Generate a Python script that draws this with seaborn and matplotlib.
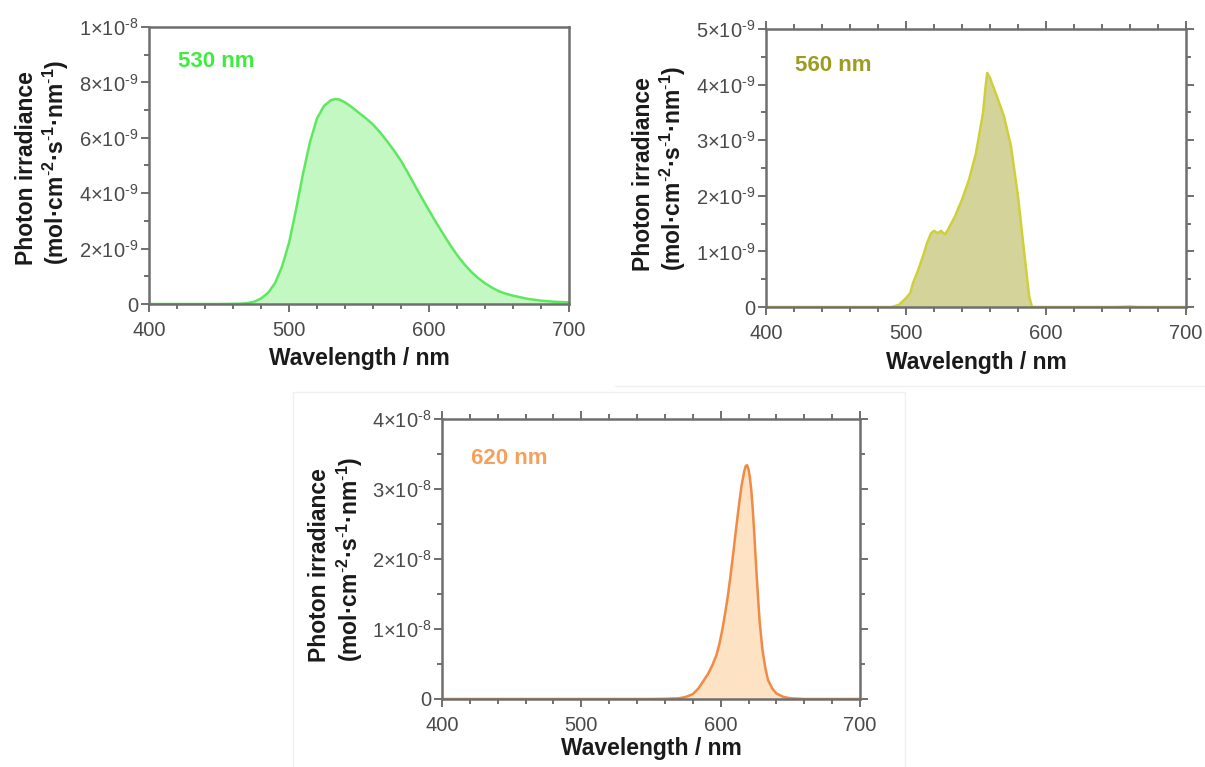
import numpy as np
import pandas as pd
import matplotlib
matplotlib.use("Agg")
import matplotlib.pyplot as plt
import seaborn as sns
from matplotlib.ticker import MultipleLocator, FixedLocator, FixedFormatter
from matplotlib.lines import Line2D

# ---------------- data ----------------
wl_530 = [400, 450, 465, 470, 475, 480, 485, 490, 495, 500, 505, 510, 515, 520, 525, 530, 533,
          536, 540, 545, 550, 555, 560, 565, 570, 575, 580, 585, 590, 595, 600, 605, 610, 615,
          620, 625, 630, 635, 640, 645, 650, 655, 660, 670, 680, 690, 700]
irr_530 = [0.0, 0.0, 0.01e-9, 0.03e-9, 0.08e-9, 0.2e-9, 0.4e-9, 0.75e-9, 1.35e-9, 2.2e-9, 3.4e-9,
           4.7e-9, 5.85e-9, 6.7e-9, 7.15e-9, 7.36e-9, 7.40e-9, 7.38e-9, 7.28e-9, 7.1e-9, 6.9e-9,
           6.7e-9, 6.48e-9, 6.2e-9, 5.88e-9, 5.54e-9, 5.17e-9, 4.73e-9, 4.27e-9, 3.82e-9, 3.38e-9,
           2.95e-9, 2.54e-9, 2.14e-9, 1.77e-9, 1.45e-9, 1.17e-9, 0.94e-9, 0.75e-9, 0.59e-9,
           0.46e-9, 0.37e-9, 0.30e-9, 0.19e-9, 0.12e-9, 0.08e-9, 0.06e-9]

wl_560 = [400, 490, 495, 500, 503, 505, 508, 510, 513, 515, 518, 520, 522, 523, 525, 527, 528,
          530, 535, 540, 545, 550, 555, 557, 558, 560, 565, 570, 575, 580, 585, 588, 590, 650,
          660, 665, 700]
irr_560 = [0.0, 0.0, 0.04e-9, 0.16e-9, 0.25e-9, 0.43e-9, 0.62e-9, 0.76e-9, 0.98e-9, 1.15e-9,
           1.33e-9, 1.37e-9, 1.34e-9, 1.33e-9, 1.37e-9, 1.32e-9, 1.31e-9, 1.39e-9, 1.63e-9,
           1.93e-9, 2.29e-9, 2.77e-9, 3.49e-9, 4.0e-9, 4.21e-9, 4.12e-9, 3.78e-9, 3.43e-9,
           2.89e-9, 1.99e-9, 0.85e-9, 0.19e-9, 0.0, 0.0, 0.01e-9, 0.0, 0.0]

wl_620 = [400, 550, 560, 570, 575, 580, 584, 588, 591, 594, 597, 599, 601, 603, 605, 607, 609,
          611, 613, 615, 617, 618, 619, 620, 621, 622, 623, 624, 625, 626, 627, 628, 630, 632,
          634, 637, 640, 645, 650, 660, 700]
irr_620 = [0.0, 0.0, 0.003e-8, 0.01e-8, 0.03e-8, 0.07e-8, 0.15e-8, 0.27e-8, 0.36e-8, 0.48e-8,
           0.63e-8, 0.78e-8, 0.97e-8, 1.2e-8, 1.45e-8, 1.75e-8, 2.08e-8, 2.42e-8, 2.75e-8,
           3.05e-8, 3.26e-8, 3.33e-8, 3.34e-8, 3.28e-8, 3.16e-8, 2.98e-8, 2.72e-8, 2.4e-8,
           2.05e-8, 1.71e-8, 1.4e-8, 1.1e-8, 0.7e-8, 0.45e-8, 0.27e-8, 0.15e-8, 0.08e-8,
           0.03e-8, 0.01e-8, 0.0, 0.0]

xticks = [400, 500, 600, 700]
xticklabels = ["400", "500", "600", "700"]

yticks_530 = [0, 2e-9, 4e-9, 6e-9, 8e-9, 1e-8]
yticklabels_530 = ["0", r"$2{\times}10^{\text{-}9}$", r"$4{\times}10^{\text{-}9}$",
                   r"$6{\times}10^{\text{-}9}$", r"$8{\times}10^{\text{-}9}$",
                   r"$1{\times}10^{\text{-}8}$"]
yticks_560 = [0, 1e-9, 2e-9, 3e-9, 4e-9, 5e-9]
yticklabels_560 = ["0", r"$1{\times}10^{\text{-}9}$", r"$2{\times}10^{\text{-}9}$",
                   r"$3{\times}10^{\text{-}9}$", r"$4{\times}10^{\text{-}9}$",
                   r"$5{\times}10^{\text{-}9}$"]
yticks_620 = [0, 1e-8, 2e-8, 3e-8, 4e-8]
yticklabels_620 = ["0", r"$1{\times}10^{\text{-}8}$", r"$2{\times}10^{\text{-}8}$",
                   r"$3{\times}10^{\text{-}8}$", r"$4{\times}10^{\text{-}8}$"]

labels = ["530 nm", "560 nm", "620 nm"]

# ---------------- style ----------------
sns.set_theme(style="ticks")
plt.rcParams["font.family"] = ["Liberation Sans", "DejaVu Sans"]
plt.rcParams["mathtext.fontset"] = "custom"
plt.rcParams["mathtext.rm"] = "Liberation Sans"
plt.rcParams["mathtext.it"] = "Liberation Sans:italic"
plt.rcParams["mathtext.bf"] = "Liberation Sans:bold"

fig = plt.figure(figsize=(12.05, 7.67), dpi=100)
fig.patch.set_facecolor("white")

# faint outlines of the pasted sub-images
frame_col = "#f0f0f0"
W, H = 1205.0, 767.0
for (xs, ys) in [([615, 1205], [386, 386]),
                 ([293, 293], [392, 767]), ([293, 905], [392, 392]), ([905, 905], [392, 767])]:
    fig.add_artist(Line2D([x / W for x in xs], [1 - y / H for y in ys],
                          color=frame_col, lw=1.0, transform=fig.transFigure))

panels = [
    dict(wl=wl_530, irr=irr_530, yt=yticks_530, ytl=yticklabels_530, ymax=1e-8, minor=1e-9,
         pos=[149 / W, 1 - 304 / H, 420 / W, 277 / H], ylc=0.51, ty=0.874, xlc=-0.155,
         mirror=False, line="#5fe85f", fill="#c3f8c3", text="#3dec3d", label=labels[0]),
    dict(wl=wl_560, irr=irr_560, yt=yticks_560, ytl=yticklabels_560, ymax=5e-9, minor=0.5e-9,
         pos=[766 / W, 1 - 307 / H, 420 / W, 278 / H], ylc=0.50, ty=0.87, xlc=-0.16,
         mirror=True, line="#cfcf3c", fill="#d4d49a", text="#9c9c1e", label=labels[1]),
    dict(wl=wl_620, irr=irr_620, yt=yticks_620, ytl=yticklabels_620, ymax=4e-8, minor=0.5e-8,
         pos=[442 / W, 1 - 699 / H, 418 / W, 280 / H], ylc=0.50, ty=0.86, xlc=-0.135,
         mirror=True, line="#f08a45", fill="#fde2c4", text="#f5a05c", label=labels[2]),
]

spine_col = "#6f6f6f"
ylab = ("Photon irradiance\n"
        r"(mol·cm$^{\text{-}\mathbf{2}}$·s$^{\text{-}\mathbf{1}}$·nm$^{\text{-}\mathbf{1}}$)")

for p in panels:
    ax = fig.add_axes(p["pos"])
    df = pd.DataFrame({"wl": p["wl"], "irr": p["irr"]})
    ax.fill_between(df["wl"], df["irr"], 0, color=p["fill"], lw=0, zorder=1)
    sns.lineplot(data=df, x="wl", y="irr", ax=ax, color=p["line"], lw=1.8, zorder=2)
    ax.set_xlim(400, 700)
    ax.set_ylim(0, p["ymax"])
    ax.xaxis.set_major_locator(FixedLocator(xticks))
    ax.xaxis.set_major_formatter(FixedFormatter(xticklabels))
    ax.xaxis.set_minor_locator(MultipleLocator(20))
    ax.yaxis.set_major_locator(FixedLocator(p["yt"]))
    ax.yaxis.set_major_formatter(FixedFormatter(p["ytl"]))
    ax.yaxis.set_minor_locator(MultipleLocator(p["minor"]))
    for s in ax.spines.values():
        s.set_visible(True)
        s.set_color(spine_col)
        s.set_linewidth(1.8)
    ax.tick_params(which="both", direction="out", top=p["mirror"], right=p["mirror"],
                   color=spine_col, width=1.4)
    ax.tick_params(which="major", length=6, labelsize=14.5, labelcolor="#4a4a4a")
    ax.tick_params(which="minor", length=3.5)
    ax.tick_params(axis="x", which="major", pad=6)
    ax.tick_params(axis="y", which="major", pad=1.5)
    ax.set_xlabel("Wavelength / nm", fontsize=16.5, fontweight="bold", color="#1a1a1a")
    ax.xaxis.set_label_coords(0.5, p["xlc"])
    ax.set_ylabel(ylab, fontsize=16.5, fontweight="bold", color="#1a1a1a",
                  va="center", ha="center", multialignment="left", linespacing=1.15)
    ax.yaxis.set_label_coords(-0.252, p["ylc"])
    ax.text(0.069, p["ty"], p["label"], transform=ax.transAxes, color=p["text"],
            fontsize=16, fontweight="bold", ha="left", va="center")
    ax.set_facecolor("white")

fig.savefig("out.png", dpi=100, facecolor="white")
